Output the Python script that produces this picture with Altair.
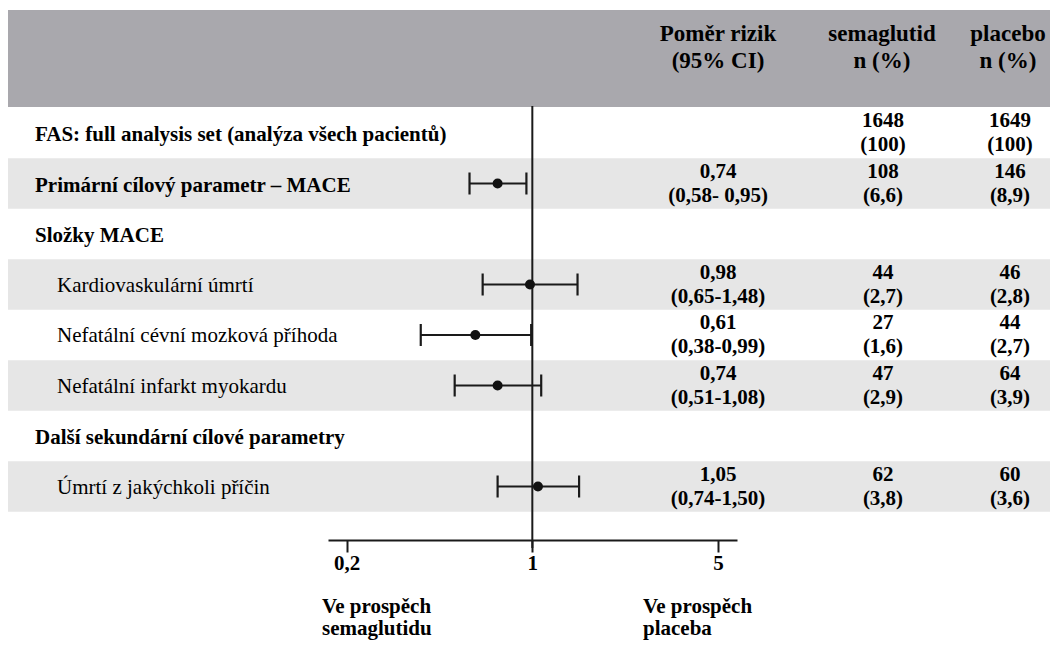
import altair as alt
import pandas as pd

# ---------------- data ----------------
labels = [
    "FAS: full analysis set (analýza všech pacientů)",
    "Primární cílový parametr – MACE",
    "Složky MACE",
    "Kardiovaskulární úmrtí",
    "Nefatální cévní mozková příhoda",
    "Nefatální infarkt myokardu",
    "Další sekundární cílové parametry",
    "Úmrtí z jakýchkoli příčin",
]
is_heading = [True, True, True, False, False, False, True, False]
shaded = [False, True, False, True, False, True, False, True]
hr = [None, 0.74, None, 0.98, 0.61, 0.74, None, 1.05]
ci_low = [None, 0.58, None, 0.65, 0.38, 0.51, None, 0.74]
ci_high = [None, 0.95, None, 1.48, 0.99, 1.08, None, 1.50]
hr_text = ["", "0,74\n(0,58- 0,95)", "", "0,98\n(0,65-1,48)", "0,61\n(0,38-0,99)",
           "0,74\n(0,51-1,08)", "", "1,05\n(0,74-1,50)"]
sema_text = ["1648\n(100)", "108\n(6,6)", "", "44\n(2,7)", "27\n(1,6)", "47\n(2,9)", "", "62\n(3,8)"]
placebo_text = ["1649\n(100)", "146\n(8,9)", "", "46\n(2,8)", "44\n(2,7)", "64\n(3,9)", "", "60\n(3,6)"]
column_headers = ["Poměr rizik\n(95% CI)", "semaglutid\nn (%)", "placebo\nn (%)"]
axis_ticks = [0.2, 1, 5]
favour_labels = ["Ve prospěch\nsemaglutidu", "Ve prospěch\nplaceba"]

df = pd.DataFrame({
    "row": list(range(len(labels))),
    "label": labels,
    "heading": is_heading,
    "shaded": shaded,
    "hr": hr,
    "ci_low": ci_low,
    "ci_high": ci_high,
    "hr_text": hr_text,
    "sema_text": sema_text,
    "placebo_text": placebo_text,
})
one = pd.DataFrame({"k": [0]})

SERIF = "Liberation Serif, Times New Roman, DejaVu Serif, serif"
HEADER_GRAY = "#a9a8ad"
BAND_GRAY = "#e6e6e6"
INK = "#1a1a1a"

x_scale = alt.Scale(type="log", domain=[0.17, 5.9], range=[320, 729], nice=False)
y_scale = alt.Scale(domain=[0, 7], range=[125, 478.5], nice=False, zero=False)

base = alt.Chart(df)

header_band = alt.Chart(one).mark_rect(color=HEADER_GRAY).encode(
    x=alt.value(-4), x2=alt.value(1050), y=alt.value(2), y2=alt.value(99)
)

row_bands = base.transform_filter("datum.shaded").transform_calculate(
    top="datum.row - 0.5", bottom="datum.row + 0.5"
).mark_rect(color=BAND_GRAY).encode(
    x=alt.value(0), x2=alt.value(1050),
    y=alt.Y("top:Q", scale=y_scale, axis=None), y2="bottom:Q",
)

ref_line = alt.Chart(one).mark_rule(color=INK, strokeWidth=2).encode(
    x=alt.X(datum=1, type="quantitative", scale=x_scale),
    y=alt.value(98), y2=alt.value(540),
)

ci_lines = base.transform_filter("isValid(datum.hr)").mark_rule(
    color=INK, strokeWidth=2.2
).encode(
    x=alt.X("ci_low:Q", scale=x_scale,
            axis=alt.Axis(values=axis_ticks, format=".1~f",
                          labelExpr="replace(datum.label, '.', ',')",
                          domain=True, domainColor=INK, domainWidth=2.2,
                          ticks=True, tickColor=INK, tickWidth=2, tickSize=12,
                          grid=False, title=None, labelFont=SERIF, labelFontSize=21,
                          labelFontWeight="bold", labelColor="black", labelPadding=0)),
    x2="ci_high:Q",
    y=alt.Y("row:Q", scale=y_scale, axis=None),
)

caps = base.transform_filter("isValid(datum.hr)").transform_fold(
    ["ci_low", "ci_high"], as_=["end", "value"]
).mark_rule(color=INK, strokeWidth=2.2, yOffset=-11, y2Offset=11).encode(
    x=alt.X("value:Q", scale=x_scale),
    y=alt.Y("row:Q", scale=y_scale), y2="row:Q",
)

points = base.transform_filter("isValid(datum.hr)").mark_circle(
    color="#111111", opacity=1, size=100
).encode(
    x=alt.X("hr:Q", scale=x_scale),
    y=alt.Y("row:Q", scale=y_scale),
)

bold_labels = base.transform_filter("datum.heading").mark_text(
    align="left", baseline="middle", font=SERIF, fontWeight="bold", fontSize=21,
    color="black", dy=2
).encode(x=alt.value(27), y=alt.Y("row:Q", scale=y_scale), text="label:N")

plain_labels = base.transform_filter("!datum.heading").mark_text(
    align="left", baseline="middle", font=SERIF, fontSize=21, color="black", dy=1
).encode(x=alt.value(49), y=alt.Y("row:Q", scale=y_scale), text="label:N")

def value_column(field, xpos):
    return base.mark_text(
        align="center", baseline="middle", font=SERIF, fontWeight="bold",
        fontSize=21, lineBreak="\n", lineHeight=24, color="black", dy=-12
    ).encode(x=alt.value(xpos), y=alt.Y("row:Q", scale=y_scale), text=f"{field}:N")

hr_col = value_column("hr_text", 710)
sema_col = value_column("sema_text", 875)
plac_col = value_column("placebo_text", 1002)

hdr = pd.DataFrame({"h": column_headers})
def header_text(i, xpos):
    return alt.Chart(hdr).transform_filter(
        alt.datum.h == column_headers[i]
    ).mark_text(
        align="center", baseline="middle", font=SERIF, fontWeight="bold",
        fontSize=23, lineBreak="\n", lineHeight=27, color="black", dy=-13
    ).encode(x=alt.value(xpos), y=alt.value(39), text="h:N")

headers = [header_text(0, 710), header_text(1, 874), header_text(2, 1000)]

fav = pd.DataFrame({"f": favour_labels})
def favour_text(i, xpos):
    return alt.Chart(fav).transform_filter(
        alt.datum.f == favour_labels[i]
    ).mark_text(
        align="left", baseline="middle", font=SERIF, fontWeight="bold",
        fontSize=21, lineBreak="\n", lineHeight=22, color="black", dy=-11
    ).encode(x=alt.value(xpos), y=alt.value(610), text="f:N")

favours = [favour_text(0, 314), favour_text(1, 635)]

chart = alt.layer(
    header_band, row_bands, ref_line, ci_lines, caps, points,
    bold_labels, plain_labels, hr_col, sema_col, plac_col, *headers, *favours
).properties(
    width=1042, height=532,
    background="white",
    autosize=alt.AutoSizeParams(type="none"),
    padding={"left": 0, "top": 0, "right": 0, "bottom": 104},
).configure_view(strokeWidth=0, stroke=None)

chart.save("out.html", embed_options={"renderer": "svg", "actions": False})
